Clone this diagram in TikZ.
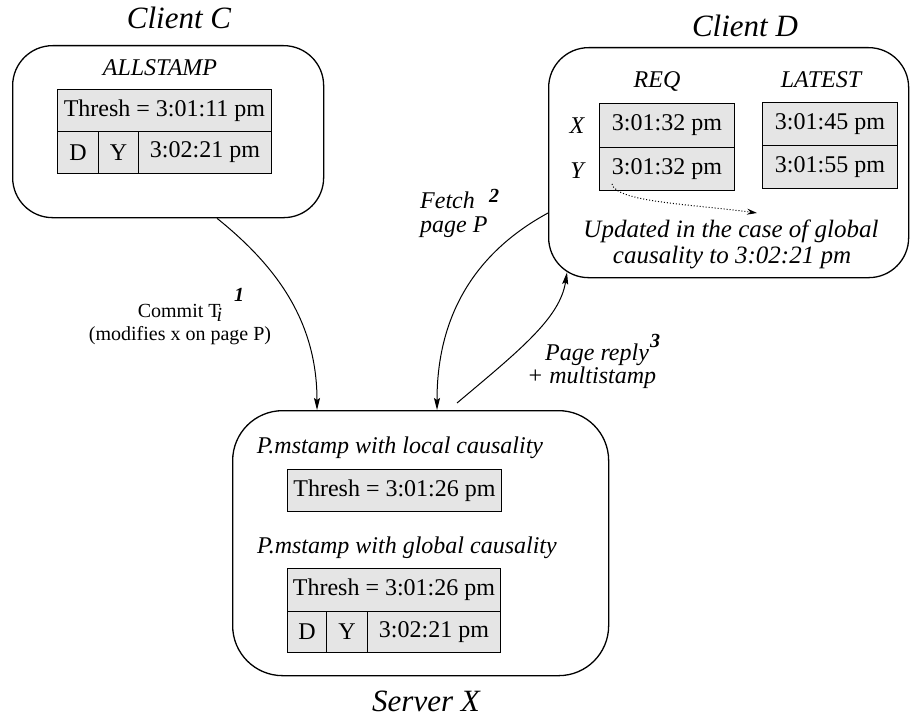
\documentclass[tikz,border=0pt]{standalone}
\usepackage{fontspec}
\setmainfont{Liberation Serif}
\usetikzlibrary{arrows.meta}
\definecolor{cellgray}{HTML}{E5E5E5}
\begin{document}
\begin{tikzpicture}[x=1pt,y=-1pt,
  panel/.style={draw, line width=1.3pt, rounded corners=40pt, anchor=north west, inner sep=0pt},
  cell/.style={draw, fill=cellgray, line width=0.9pt, anchor=north west, inner sep=0pt, font=\fontsize{24}{28}\selectfont},
  title/.style={font=\fontsize{31}{36}\selectfont\itshape, anchor=base, inner sep=0pt},
  lbl/.style={font=\fontsize{24}{28}\selectfont\itshape, anchor=base, inner sep=0pt},
  note/.style={font=\fontsize{20}{24}\selectfont, anchor=base, inner sep=0pt},
  num/.style={font=\fontsize{20}{24}\selectfont\bfseries\itshape, anchor=base, inner sep=0pt},
  conn/.style={line width=1pt, -{Stealth[length=12pt,width=6pt,inset=2pt]}},
]
\useasboundingbox (0,0) rectangle (910,717);

% ---------- Client C ----------
\node[title] (tC) at (179,29) {Client C};
\node[panel, minimum width=311pt, minimum height=172pt] (cC) at (12,45) {};
\node[lbl] (allst) at (160,76) {ALLSTAMP};
\node[cell, minimum width=214pt, minimum height=42pt] (cThr) at (57,89) {Thresh = 3:01:11 pm};
\node[cell, minimum width=41pt, minimum height=42pt] (cDc) at (57,131) {D};
\node[cell, minimum width=40pt, minimum height=42pt] (cYc) at (98,131) {Y};
\node[cell, minimum width=133pt, minimum height=42pt] (cTm) at (138,131) {3:02:21 pm};

% ---------- Client D ----------
\node[title] (tD) at (745,37) {Client D};
\node[panel, minimum width=360pt, minimum height=230pt] (clD) at (548,47) {};
\node[lbl] (req) at (657,88) {REQ};
\node[lbl] (latest) at (821,88) {LATEST};
\node[lbl] (lx) at (577,133) {X};
\node[lbl] (ly) at (577,178) {Y};
\node[cell, minimum width=135pt, minimum height=44pt] (reqX) at (599,103) {3:01:32 pm};
\node[cell, minimum width=135pt, minimum height=43pt] (reqY) at (599,147) {3:01:32 pm};
\node[cell, minimum width=135pt, minimum height=43pt] (latX) at (762,102) {3:01:45 pm};
\node[cell, minimum width=135pt, minimum height=43pt] (latY) at (762,145) {3:01:55 pm};
\node[lbl, font=\fontsize{25}{29}\selectfont\itshape] (upd1) at (731,237) {Updated in the case of global};
\node[lbl, font=\fontsize{25}{29}\selectfont\itshape] (upd2) at (732,263) {causality to 3:02:21 pm};
\coordinate (dotEnd) at (757,213);
\draw[dotted, line width=1pt, -{Stealth[length=10pt,width=6pt]}]
  ([xshift=13pt,yshift=7pt]reqY.south west) .. controls (616,202) and (690,204) .. (dotEnd);

% ---------- Server X ----------
\node[panel, rounded corners=50pt, minimum width=376pt, minimum height=265pt] (srv) at (232,410) {};
\node[lbl] (loc) at (400,453) {P.mstamp with local causality};
\node[cell, minimum width=214pt, minimum height=42pt] (sThr1) at (287,469) {Thresh = 3:01:26 pm};
\node[lbl] (glo) at (407,553) {P.mstamp with global causality};
\node[cell, minimum width=213pt, minimum height=43pt] (sThr2) at (287,568) {Thresh = 3:01:26 pm};
\node[cell, minimum width=39pt, minimum height=41pt] (sDc) at (287,611) {D};
\node[cell, minimum width=41pt, minimum height=41pt] (sYc) at (326,611) {Y};
\node[cell, minimum width=133pt, minimum height=41pt] (sTm) at (367,611) {3:02:21 pm};
\node[title] (tX) at (426,711) {Server X};

% ---------- Connectors ----------
\draw[conn] ([xshift=205pt]cC.south west) .. controls (275,265) and (317,320) .. ([xshift=85pt]srv.north west);
\draw[conn] ([yshift=-166pt]clD.north west) .. controls (480,250) and (437,310) .. ([xshift=205pt]srv.north west);
\draw[conn] ([xshift=225pt,yshift=7pt]srv.north west) .. controls (520,350) and (560,318) .. ([xshift=19pt,yshift=6pt]clD.south west);

% ---------- Labels ----------
\node[note] (commit) at (180,317) {Commit T\raisebox{-4pt}[0pt][0pt]{\kern-4pt\itshape i}};
\node[num] (n1) at (239,301) {1};
\node[note] (modif) at (180,340) {(modifies x on page P)};
\node[lbl, anchor=base west] (fetch) at (420,208) {Fetch};
\node[lbl, anchor=base west] (pageP) at (420,232) {page P};
\node[num] (n2) at (494,202) {2};
\node[lbl, anchor=base west] (prep) at (545,360) {Page reply};
\node[lbl, anchor=base west] (mst) at (527,383) {+ multistamp};
\node[num] (n3) at (655,347) {3};
\end{tikzpicture}
\end{document}
